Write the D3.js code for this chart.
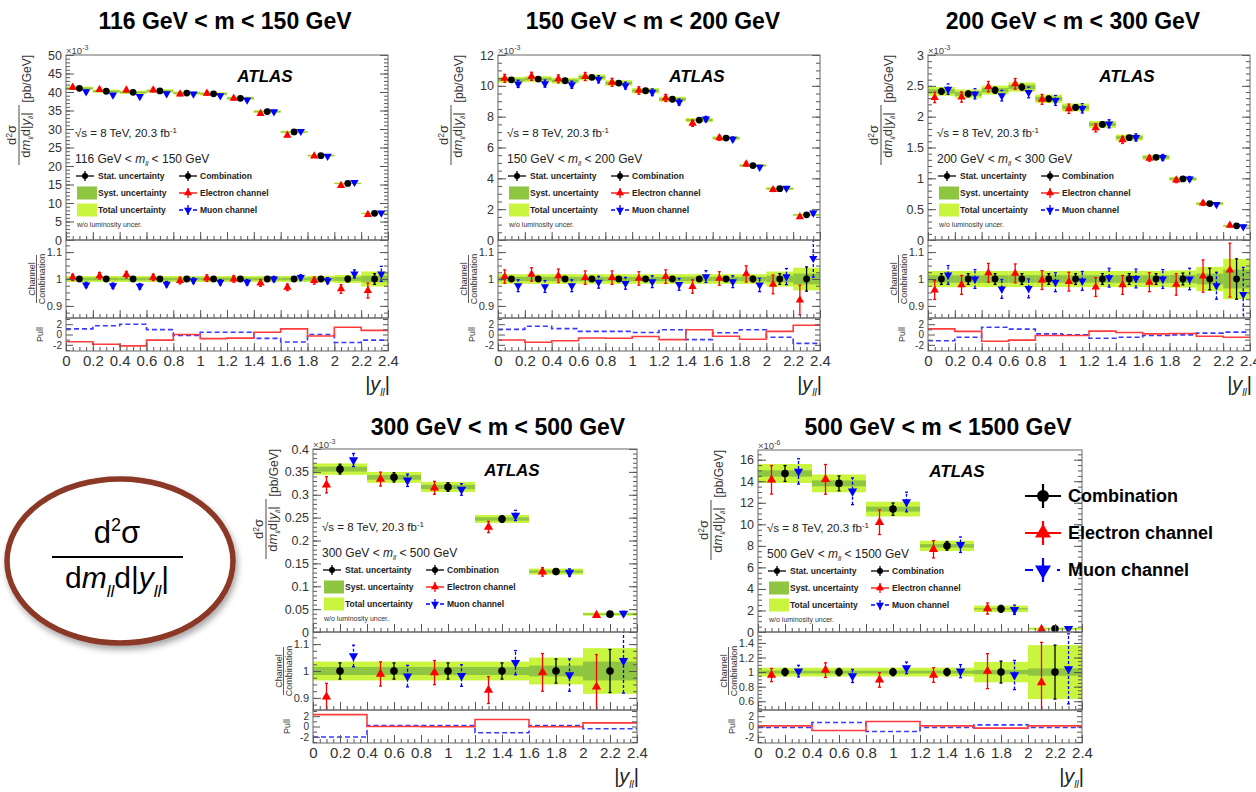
<!DOCTYPE html>
<html>
<head>
<meta charset="utf-8">
<script src="https://cdn.jsdelivr.net/npm/d3@7"></script>
<style>
  body { margin: 0; background: #fff; }
  svg { font-family: 'Liberation Sans', Arial, sans-serif; }
</style>
</head>
<body>
<svg id="chart" width="1256" height="792"></svg>
<script>
// ---- data ----
let titles = ['116 GeV < m < 150 GeV', '150 GeV < m < 200 GeV', '200 GeV < m < 300 GeV',
              '300 GeV < m < 500 GeV', '500 GeV < m < 1500 GeV']
let massLow = [116, 150, 200, 300, 500]
let massHigh = [150, 200, 300, 500, 1500]
let exponents = ['-3', '-3', '-3', '-3', '-6']

let fineBins = [0, 0.2, 0.4, 0.6, 0.8, 1.0, 1.2, 1.4, 1.6, 1.8, 2.0, 2.2, 2.4]
let wideBins = [0, 0.4, 0.8, 1.2, 1.6, 2.0, 2.4]
let binEdges = [fineBins, fineBins, fineBins, wideBins, wideBins]

let xTicks = [0, 0.2, 0.4, 0.6, 0.8, 1, 1.2, 1.4, 1.6, 1.8, 2, 2.2, 2.4]
let yMax = [50, 12, 3, 0.4, 16.9]
let yMajor = [5, 2, 0.5, 0.05, 2]
let yMinor = [1, 0.5, 0.1, 0.01, 0.5]
let ratioRange = [[0.855, 1.145], [0.855, 1.145], [0.855, 1.145], [0.855, 1.145], [0.48, 1.55]]
let ratioTicks = [[0.9, 1, 1.1], [0.9, 1, 1.1], [0.9, 1, 1.1], [0.9, 1, 1.1], [0.6, 0.8, 1, 1.2, 1.4]]
let pullTicks = [-2, 0, 2]

// combined cross section per |y| bin (units of the axis exponent)
let combination = [
  [41.0, 40.2, 39.9, 40.3, 39.7, 39.5, 38.3, 34.7, 29.2, 22.8, 15.3, 7.2],
  [10.39, 10.44, 10.33, 10.55, 10.18, 9.68, 9.13, 7.78, 6.61, 4.83, 3.33, 1.63],
  [2.41, 2.37, 2.43, 2.48, 2.29, 2.15, 1.875, 1.66, 1.34, 0.99, 0.59, 0.23],
  [0.356, 0.338, 0.317, 0.247, 0.132, 0.039],
  [14.72, 13.8, 11.41, 8.0, 2.15, 0.3]
]
// relative uncertainties of the combination
let totalUnc = [
  [0.011, 0.011, 0.011, 0.011, 0.011, 0.011, 0.011, 0.011, 0.011, 0.012, 0.015, 0.028],
  [0.018, 0.018, 0.018, 0.018, 0.018, 0.018, 0.018, 0.018, 0.018, 0.018, 0.028, 0.042],
  [0.03, 0.03, 0.03, 0.03, 0.03, 0.03, 0.03, 0.03, 0.03, 0.032, 0.045, 0.075],
  [0.035, 0.035, 0.035, 0.035, 0.05, 0.085],
  [0.06, 0.06, 0.06, 0.06, 0.14, 0.37]
]
let systUnc = [
  [0.005, 0.005, 0.005, 0.005, 0.005, 0.005, 0.005, 0.005, 0.005, 0.006, 0.007, 0.012],
  [0.008, 0.008, 0.008, 0.008, 0.008, 0.008, 0.008, 0.008, 0.008, 0.008, 0.012, 0.02],
  [0.014, 0.014, 0.014, 0.014, 0.014, 0.014, 0.014, 0.014, 0.014, 0.015, 0.02, 0.035],
  [0.015, 0.015, 0.015, 0.015, 0.02, 0.035],
  [0.02, 0.02, 0.02, 0.02, 0.03, 0.05]
]
let statUnc = [
  [0.004, 0.004, 0.004, 0.004, 0.004, 0.004, 0.004, 0.005, 0.005, 0.006, 0.01, 0.02],
  [0.008, 0.008, 0.008, 0.008, 0.008, 0.008, 0.008, 0.008, 0.008, 0.01, 0.02, 0.045],
  [0.02, 0.02, 0.02, 0.02, 0.02, 0.02, 0.02, 0.02, 0.02, 0.022, 0.04, 0.075],
  [0.03, 0.03, 0.03, 0.03, 0.045, 0.08],
  [0.05, 0.05, 0.05, 0.05, 0.15, 0.37]
]
// channel / combination
let elRatio = [
  [1.006, 1.012, 1.016, 1.006, 0.994, 1.003, 1.0, 0.985, 0.969, 0.994, 0.963, 0.957],
  [1.009, 1.017, 1.012, 1.005, 1.005, 1.002, 1.009, 0.972, 1.002, 1.019, 0.98, 0.922],
  [0.959, 0.978, 1.023, 1.021, 0.996, 0.99, 0.97, 0.978, 0.988, 0.98, 1.011, 1.033],
  [0.904, 0.989, 0.994, 0.929, 0.995, 0.941],
  [0.96, 1.027, 0.893, 0.96, 1.013, 0.858]
]
let elErr = [
  [0.012, 0.012, 0.012, 0.012, 0.012, 0.012, 0.012, 0.012, 0.012, 0.013, 0.016, 0.028],
  [0.025, 0.025, 0.025, 0.025, 0.025, 0.025, 0.025, 0.025, 0.025, 0.03, 0.035, 0.055],
  [0.035, 0.035, 0.035, 0.035, 0.035, 0.035, 0.035, 0.035, 0.035, 0.04, 0.06, 0.1],
  [0.05, 0.045, 0.045, 0.05, 0.07, 0.12],
  [0.09, 0.1, 0.1, 0.1, 0.24, 0.55]
]
let muRatio = [
  [0.978, 0.975, 0.973, 0.981, 0.994, 0.988, 0.988, 1.0, 1.006, 0.994, 1.019, 1.019],
  [0.975, 0.972, 0.975, 0.988, 0.984, 0.99, 0.98, 1.009, 0.99, 0.978, 1.009, 1.077],
  [1.015, 1.0, 0.963, 0.965, 0.988, 0.993, 1.005, 1.002, 1.0, 1.0, 0.975, 0.943],
  [1.056, 0.981, 0.983, 1.031, 0.985, 1.038],
  [1.013, 0.947, 1.058, 1.013, 0.96, 1.044]
]
let muErr = [
  [0.01, 0.01, 0.01, 0.01, 0.01, 0.01, 0.01, 0.01, 0.01, 0.011, 0.015, 0.028],
  [0.022, 0.022, 0.022, 0.022, 0.022, 0.022, 0.022, 0.022, 0.022, 0.025, 0.03, 0.07],
  [0.035, 0.035, 0.035, 0.035, 0.035, 0.035, 0.035, 0.035, 0.035, 0.04, 0.05, 0.1],
  [0.04, 0.04, 0.04, 0.045, 0.06, 0.12],
  [0.08, 0.09, 0.08, 0.09, 0.2, 0.48]
]
// pulls
let elPull = [
  [-1.4, -1.9, -2.2, -1.1, 0, -0.8, -0.7, 0.45, 1.1, -0.3, 1.4, 0.8],
  [-1.07, -1.5, -1.2, -0.67, -0.73, -0.4, -1.0, 0.93, -0.33, -0.93, 0.6, 1.8],
  [1.1, 0.6, -1.3, -1.1, -0.2, -0.2, 0.65, 0.4, 0.13, 0.2, -0.33, -0.53],
  [2.3, 0, -0.05, 1.35, -0.05, 0.7],
  [0.13, -0.77, 0.97, 0.13, -0.32, 0.13]
]
let muPull = [
  [1.1, 1.7, 2.0, 0.95, -0.2, 0.45, 0.45, -0.75, -1.45, 0, -1.55, -1.1],
  [1.0, 1.6, 1.13, 0.6, 0.6, 0.4, 0.93, -1.0, 0.33, 0.93, -0.53, -1.73],
  [-1.2, -0.53, 1.4, 1.05, 0.13, -0.07, -0.73, -0.53, -0.2, -0.07, 0.27, 0.47],
  [-2.05, 0.2, 0.2, -1.2, 0.2, -0.45],
  [-0.19, 0.77, -0.97, -0.19, 0.32, -0.19]
]

// ---- layout ----
let layout = [
  {x0: 66,  x1: 388,  top: 55,  y0: 240, r1: 318, p1: 351, tx: 225, ty: 29},
  {x0: 498, x1: 820,  top: 55,  y0: 240, r1: 318, p1: 351, tx: 653, ty: 29},
  {x0: 928, x1: 1250, top: 55,  y0: 240, r1: 318, p1: 351, tx: 1073, ty: 29},
  {x0: 313, x1: 637,  top: 449, y0: 632, r1: 710, p1: 743, tx: 498, ty: 435},
  {x0: 758, x1: 1082, top: 450, y0: 632, r1: 710, p1: 743, tx: 938, ty: 435}
]

let totalColor = '#c9f53e'
let systColor = '#8fc641'
let red = '#ff0000', blue = '#0000ff'

let svg = d3.select('#chart')
let defs = svg.append('defs')
defs.append('filter').attr('id', 'shadow')
  .append('feDropShadow').attr('dx', 2).attr('dy', 4).attr('stdDeviation', 3)
  .attr('flood-color', '#000').attr('flood-opacity', 0.35)

function steps(lo, hi, step) {
  let out = []
  for (let k = Math.ceil(lo / step - 1e-9); k * step <= hi + 1e-9; k++) out.push(+(k * step).toFixed(4))
  return out
}

function styleAxis(sel, size) {
  sel.select('.domain').remove()
  sel.attr('font-family', null).attr('font-size', size)
  sel.selectAll('.tick line').attr('stroke', '#555')
  sel.selectAll('.tick text').attr('fill', '#333')
}

function marker(g, type, cx, cy, size) {
  if (type === 'circle') {
    return g.append('circle').attr('cx', cx).attr('cy', cy).attr('r', size).attr('fill', 'black')
  }
  let area = size * size * 2.6
  return g.append('path')
    .attr('d', d3.symbol(d3.symbolTriangle, area)())
    .attr('transform', 'translate(' + cx + ',' + cy + ')' + (type === 'down' ? ' rotate(180)' : ''))
    .attr('fill', type === 'down' ? blue : red)
}

function errBar(g, cx, ya, yb, color, dashed) {
  g.append('line').attr('x1', cx).attr('x2', cx).attr('y1', ya).attr('y2', yb)
    .attr('stroke', color).attr('stroke-width', 1.3)
    .attr('stroke-dasharray', dashed ? '3,2' : null)
  ;[ya, yb].forEach(yy => g.append('line').attr('x1', cx - 1.5).attr('x2', cx + 1.5)
    .attr('y1', yy).attr('y2', yy).attr('stroke', color).attr('stroke-width', 1.3))
}

function legendEntry(g, kind, cx, cy) {
  let color = kind === 'down' ? blue : (kind === 'up' ? red : 'black')
  g.append('line').attr('x1', cx - 9).attr('x2', cx + 9).attr('y1', cy).attr('y2', cy)
    .attr('stroke', color).attr('stroke-width', 1.3)
    .attr('stroke-dasharray', kind === 'down' ? '4,3' : null)
  g.append('line').attr('x1', cx).attr('x2', cx).attr('y1', cy - 5).attr('y2', cy + 5)
    .attr('stroke', color).attr('stroke-width', 1.3)
  marker(g, kind, cx, cy, kind === 'circle' ? 3 : 3.3)
}

layout.forEach((L, p) => {
  let edges = binEdges[p]
  let n = edges.length - 1
  let g = svg.append('g')

  let x = d3.scaleLinear().domain([0, 2.4]).range([L.x0, L.x1])
  let y = d3.scaleLinear().domain([0, yMax[p]]).range([L.y0, L.top])
  let yr = d3.scaleLinear().domain(ratioRange[p]).range([L.r1, L.y0])
  let yp = d3.scaleLinear().domain([-3.2, 3.2]).range([L.p1, L.r1])

  let bins = d3.range(n).map(i => ({
    lo: edges[i], hi: edges[i + 1], c: combination[p][i],
    tot: totalUnc[p][i], syst: systUnc[p][i], stat: statUnc[p][i],
    er: elRatio[p][i], ee: elErr[p][i], mr: muRatio[p][i], me: muErr[p][i],
    ep: elPull[p][i], mp: muPull[p][i]
  }))
  bins.forEach(b => {
    let w = b.hi - b.lo
    b.xe = b.lo + 0.25 * w
    b.xc = b.lo + 0.5 * w
    b.xm = b.lo + 0.75 * w
  })
  let ms = p > 2 ? 3.8 : 3.4

  // clip regions
  let clipMain = 'clipMain' + p, clipRatio = 'clipRatio' + p
  defs.append('clipPath').attr('id', clipMain).append('rect')
    .attr('x', L.x0).attr('y', L.top).attr('width', L.x1 - L.x0).attr('height', L.y0 - L.top)
  defs.append('clipPath').attr('id', clipRatio).append('rect')
    .attr('x', L.x0).attr('y', L.y0).attr('width', L.x1 - L.x0).attr('height', L.r1 - L.y0)

  // title
  g.append('text').attr('x', L.tx).attr('y', L.ty).attr('text-anchor', 'middle')
    .attr('font-size', 23).attr('font-weight', 'bold').text(titles[p])

  // ---- main pad ----
  let main = g.append('g').attr('clip-path', 'url(#' + clipMain + ')')
  main.selectAll('rect.tot').data(bins).enter().append('rect')
    .attr('x', d => x(d.lo)).attr('width', d => x(d.hi) - x(d.lo))
    .attr('y', d => y(d.c * (1 + d.tot))).attr('height', d => y(d.c * (1 - d.tot)) - y(d.c * (1 + d.tot)))
    .attr('fill', totalColor)
  main.selectAll('rect.syst').data(bins).enter().append('rect')
    .attr('x', d => x(d.lo)).attr('width', d => x(d.hi) - x(d.lo))
    .attr('y', d => y(d.c * (1 + d.syst))).attr('height', d => y(d.c * (1 - d.syst)) - y(d.c * (1 + d.syst)))
    .attr('fill', systColor)
  bins.forEach(b => {
    errBar(main, x(b.xe), y(b.c * (b.er - b.ee)), y(b.c * (b.er + b.ee)), red, false)
    errBar(main, x(b.xm), y(b.c * (b.mr - b.me)), y(b.c * (b.mr + b.me)), blue, true)
    errBar(main, x(b.xc), y(b.c * (1 - b.stat)), y(b.c * (1 + b.stat)), 'black', false)
    marker(main, 'up', x(b.xe), y(b.c * b.er), ms)
    marker(main, 'down', x(b.xm), y(b.c * b.mr), ms)
    marker(main, 'circle', x(b.xc), y(b.c), ms)
  })

  // ---- ratio pad ----
  let ratio = g.append('g').attr('clip-path', 'url(#' + clipRatio + ')')
  ratio.selectAll('rect.tot').data(bins).enter().append('rect')
    .attr('x', d => x(d.lo)).attr('width', d => x(d.hi) - x(d.lo))
    .attr('y', d => yr(1 + d.tot)).attr('height', d => yr(1 - d.tot) - yr(1 + d.tot))
    .attr('fill', totalColor)
  ratio.selectAll('rect.syst').data(bins).enter().append('rect')
    .attr('x', d => x(d.lo)).attr('width', d => x(d.hi) - x(d.lo))
    .attr('y', d => yr(1 + d.syst)).attr('height', d => yr(1 - d.syst) - yr(1 + d.syst))
    .attr('fill', systColor)
  bins.forEach(b => {
    errBar(ratio, x(b.xe), yr(b.er - b.ee), yr(b.er + b.ee), red, false)
    errBar(ratio, x(b.xm), yr(b.mr - b.me), yr(b.mr + b.me), blue, true)
    errBar(ratio, x(b.xc), yr(1 - b.stat), yr(1 + b.stat), 'black', false)
    marker(ratio, 'up', x(b.xe), yr(b.er), ms)
    marker(ratio, 'down', x(b.xm), yr(b.mr), ms)
    marker(ratio, 'circle', x(b.xc), yr(1), ms)
  })

  // ---- pull pad ----
  let stepLine = d3.line().x(d => x(d[0])).y(d => yp(d[1])).curve(d3.curveStepAfter)
  let ePts = bins.map(b => [b.lo, b.ep]).concat([[2.4, bins[n - 1].ep]])
  let mPts = bins.map(b => [b.lo, b.mp]).concat([[2.4, bins[n - 1].mp]])
  g.append('path').attr('d', stepLine(mPts)).attr('fill', 'none')
    .attr('stroke', '#3a3aff').attr('stroke-width', 1.6).attr('stroke-dasharray', '5,3')
  g.append('path').attr('d', stepLine(ePts)).attr('fill', 'none')
    .attr('stroke', '#ff3b3b').attr('stroke-width', 1.6)

  // ---- axes ----
  let yMaj = steps(0, yMax[p], yMajor[p])
  let yMin = steps(0, yMax[p], yMinor[p])
  let fmt = d => String(+d.toFixed(4))
  g.append('g').attr('transform', translate(L.x0, 0))
    .call(d3.axisLeft(y).tickValues(yMaj).tickSize(-8).tickPadding(4).tickFormat(fmt)).call(styleAxis, 12.5)
  g.append('g').attr('transform', translate(L.x0, 0))
    .call(d3.axisLeft(y).tickValues(yMin).tickSize(-4).tickFormat('')).call(styleAxis, 12)
  g.append('g').attr('transform', translate(L.x1, 0))
    .call(d3.axisRight(y).tickValues(yMaj).tickSize(-8).tickFormat('')).call(styleAxis, 12)
  g.append('g').attr('transform', translate(L.x1, 0))
    .call(d3.axisRight(y).tickValues(yMin).tickSize(-4).tickFormat('')).call(styleAxis, 12)

  let rMin = steps(ratioRange[p][0], ratioRange[p][1], p === 4 ? 0.05 : 0.025)
  g.append('g').attr('transform', translate(L.x0, 0))
    .call(d3.axisLeft(yr).tickValues(ratioTicks[p]).tickSize(-8).tickPadding(4).tickFormat(fmt)).call(styleAxis, 11)
  g.append('g').attr('transform', translate(L.x0, 0))
    .call(d3.axisLeft(yr).tickValues(rMin).tickSize(-4).tickFormat('')).call(styleAxis, 11)
  g.append('g').attr('transform', translate(L.x1, 0))
    .call(d3.axisRight(yr).tickValues(ratioTicks[p]).tickSize(-8).tickFormat('')).call(styleAxis, 11)
  g.append('g').attr('transform', translate(L.x1, 0))
    .call(d3.axisRight(yr).tickValues(rMin).tickSize(-4).tickFormat('')).call(styleAxis, 11)

  g.append('g').attr('transform', translate(L.x0, 0))
    .call(d3.axisLeft(yp).tickValues(pullTicks).tickSize(-7).tickPadding(4).tickFormat(fmt)).call(styleAxis, 10)
  g.append('g').attr('transform', translate(L.x0, 0))
    .call(d3.axisLeft(yp).tickValues([-3, -1, 1, 3]).tickSize(-4).tickFormat('')).call(styleAxis, 10)
  g.append('g').attr('transform', translate(L.x1, 0))
    .call(d3.axisRight(yp).tickValues([-3, -2, -1, 0, 1, 2, 3]).tickSize(-5).tickFormat('')).call(styleAxis, 10)

  let xMin = steps(0, 2.4, 0.05)
  ;[L.y0, L.r1, L.p1].forEach((yy, k) => {
    g.append('g').attr('transform', translate(0, yy))
      .call(d3.axisBottom(x).tickValues(xTicks).tickSize(-8).tickPadding(4)
        .tickFormat(k === 2 ? fmt : '')).call(styleAxis, 15)
    g.append('g').attr('transform', translate(0, yy))
      .call(d3.axisBottom(x).tickValues(xMin).tickSize(-4).tickFormat('')).call(styleAxis, 15)
  })

  // frames
  ;[[L.top, L.y0], [L.y0, L.r1], [L.r1, L.p1]].forEach(f => {
    g.append('rect').attr('x', L.x0).attr('y', f[0]).attr('width', L.x1 - L.x0).attr('height', f[1] - f[0])
      .attr('fill', 'none').attr('stroke', '#666').attr('stroke-width', 1)
  })

  // exponent
  let ex = g.append('text').attr('x', L.x0).attr('y', L.top - 1).attr('font-size', 9.5).attr('fill', '#444')
  ex.append('tspan').text('\u00d710')
  ex.append('tspan').attr('dy', -4).attr('font-size', 7).text(exponents[p])

  // y titles
  let yt = g.append('g').attr('transform', translate(L.x0 - 35, L.top) + ' rotate(-90)')
  yt.append('text').attr('x', 0).attr('y', 0).attr('text-anchor', 'end').attr('font-size', 12)
    .attr('fill', '#333').text('[pb/GeV]')
  let fc = -80
  let num = yt.append('text').attr('x', fc).attr('y', -15).attr('text-anchor', 'middle')
    .attr('font-size', 13).attr('fill', '#333')
  num.append('tspan').text('d')
  num.append('tspan').attr('dy', -4).attr('font-size', 8.5).text('2')
  num.append('tspan').attr('dy', 4).text('\u03c3')
  yt.append('line').attr('x1', fc - 30).attr('x2', fc + 30).attr('y1', -12).attr('y2', -12)
    .attr('stroke', '#333').attr('stroke-width', 0.9)
  let den = yt.append('text').attr('x', fc).attr('y', -1).attr('text-anchor', 'middle')
    .attr('font-size', 13).attr('fill', '#333')
  den.append('tspan').text('d')
  den.append('tspan').attr('font-style', 'italic').text('m')
  den.append('tspan').attr('dy', 2.5).attr('font-size', 7.5).attr('font-style', 'italic').text('ll')
  den.append('tspan').attr('dy', -2.5).text('d|')
  den.append('tspan').attr('font-style', 'italic').text('y')
  den.append('tspan').attr('dy', 2.5).attr('font-size', 7.5).attr('font-style', 'italic').text('ll')
  den.append('tspan').attr('dy', -2.5).text('|')

  let rc = (L.y0 + L.r1) / 2
  let rt = g.append('g').attr('transform', translate(L.x0 - 31, rc) + ' rotate(-90)')
  rt.append('text').attr('text-anchor', 'middle').attr('y', 0).attr('font-size', 9).attr('fill', '#333').text('Channel')
  rt.append('line').attr('x1', -24).attr('x2', 24).attr('y1', 1.5).attr('y2', 1.5).attr('stroke', '#333').attr('stroke-width', 0.8)
  rt.append('text').attr('text-anchor', 'middle').attr('y', 10).attr('font-size', 9).attr('fill', '#333').text('Combination')

  g.append('text').attr('transform', translate(L.x0 - 23, (L.r1 + L.p1) / 2) + ' rotate(-90)')
    .attr('text-anchor', 'middle').attr('font-size', 9).attr('fill', '#333').text('Pull')

  // x title
  let xt = g.append('text').attr('x', L.x1 + 2).attr('y', L.p1 + 40).attr('text-anchor', 'end')
    .attr('font-size', 20).attr('fill', '#222')
  xt.append('tspan').text('|')
  xt.append('tspan').attr('font-style', 'italic').text('y')
  xt.append('tspan').attr('dy', 5).attr('font-size', 10).attr('font-style', 'italic').text('ll')
  xt.append('tspan').attr('dy', -5).text('|')

  // ATLAS + labels
  g.append('text').attr('x', L.x0 + 199).attr('y', L.top + 27).attr('text-anchor', 'middle')
    .attr('font-size', 17).attr('font-weight', 'bold').attr('font-style', 'italic').text('ATLAS')

  let s = g.append('text').attr('x', L.x0 + 9).attr('y', L.top + 82).attr('font-size', 11.5).attr('fill', '#222')
  s.append('tspan').text('\u221as = 8 TeV, 20.3 fb')
  s.append('tspan').attr('dy', -4).attr('font-size', 8).text('-1')
  let m = g.append('text').attr('x', L.x0 + 9).attr('y', L.top + 108).attr('font-size', 12).attr('fill', '#222')
  m.append('tspan').text(massLow[p] + ' GeV < ')
  m.append('tspan').attr('font-style', 'italic').text('m')
  m.append('tspan').attr('dy', 3).attr('font-size', 7).attr('font-style', 'italic').text('ll')
  m.append('tspan').attr('dy', -3).text(' < ' + massHigh[p] + ' GeV')

  // inner legend
  let rows = [121, 138, 155].map(r => L.top + r)
  legendEntry(g, 'circle', L.x0 + 19, rows[0])
  g.append('rect').attr('x', L.x0 + 11).attr('y', rows[1] - 6.5).attr('width', 20).attr('height', 13).attr('fill', systColor)
  g.append('rect').attr('x', L.x0 + 11).attr('y', rows[2] - 6.5).attr('width', 20).attr('height', 13).attr('fill', totalColor)
  legendEntry(g, 'circle', L.x0 + 122, rows[0])
  legendEntry(g, 'up', L.x0 + 122, rows[1])
  legendEntry(g, 'down', L.x0 + 122, rows[2])
  let lt = [['Stat. uncertainty', L.x0 + 32], ['Syst. uncertainty', L.x0 + 32], ['Total uncertainty', L.x0 + 32]]
  let rtx = [['Combination', L.x0 + 134], ['Electron channel', L.x0 + 134], ['Muon channel', L.x0 + 134]]
  lt.concat(rtx).forEach((t, i) => {
    g.append('text').attr('x', t[1]).attr('y', rows[i % 3] + 3).attr('font-size', 8.5)
      .attr('font-weight', 'bold').attr('fill', '#222').text(t[0])
  })
  g.append('text').attr('x', L.x0 + 11).attr('y', L.top + 172).attr('font-size', 7)
    .attr('fill', '#333').text('w/o luminosity uncer.')
})

// ---- big legend ----
let big = svg.append('g')
let bigRows = [['Combination', 'circle', 496], ['Electron channel', 'up', 533], ['Muon channel', 'down', 570]]
bigRows.forEach(r => {
  let cx = 1043, cy = r[2]
  let color = r[1] === 'circle' ? 'black' : (r[1] === 'up' ? red : blue)
  big.append('line').attr('x1', 1025).attr('x2', 1061).attr('y1', cy).attr('y2', cy)
    .attr('stroke', color).attr('stroke-width', 2.2)
    .attr('stroke-dasharray', r[1] === 'down' ? '8,24,3' : null)
  big.append('line').attr('x1', cx).attr('x2', cx).attr('y1', cy - 12).attr('y2', cy + 12)
    .attr('stroke', color).attr('stroke-width', 2.2)
  if (r[1] === 'circle') big.append('circle').attr('cx', cx).attr('cy', cy).attr('r', 6)
  else big.append('path').attr('d', d3.symbol(d3.symbolTriangle, 110)())
    .attr('transform', translate(cx, cy) + (r[1] === 'down' ? ' rotate(180)' : ''))
    .attr('fill', color)
  big.append('text').attr('x', 1068).attr('y', cy + 6).attr('font-size', 18)
    .attr('font-weight', 'bold').text(r[0])
})

// ---- circled formula ----
let form = svg.append('g')
form.append('ellipse').attr('cx', 120).attr('cy', 561).attr('rx', 113).attr('ry', 82)
  .attr('fill', '#fff').attr('stroke', '#8b3826').attr('stroke-width', 5.5).attr('filter', 'url(#shadow)')
let fn = form.append('text').attr('x', 117).attr('y', 543).attr('text-anchor', 'middle').attr('font-size', 31)
fn.append('tspan').text('d')
fn.append('tspan').attr('dy', -12).attr('font-size', 18).text('2')
fn.append('tspan').attr('dy', 12).text('\u03c3')
form.append('line').attr('x1', 52).attr('x2', 183).attr('y1', 557).attr('y2', 557).attr('stroke', '#000').attr('stroke-width', 2)
let fd = form.append('text').attr('x', 117).attr('y', 588).attr('text-anchor', 'middle').attr('font-size', 30)
fd.append('tspan').text('d')
fd.append('tspan').attr('font-style', 'italic').text('m')
fd.append('tspan').attr('dy', 9).attr('font-size', 17).attr('font-style', 'italic').text('ll')
fd.append('tspan').attr('dy', -9).text('d|')
fd.append('tspan').attr('font-style', 'italic').text('y')
fd.append('tspan').attr('dy', 9).attr('font-size', 17).attr('font-style', 'italic').text('ll')
fd.append('tspan').attr('dy', -9).text('|')

function translate(x, y) {
  return 'translate(' + x + ',' + y + ')'
}
</script>
</body>
</html>
